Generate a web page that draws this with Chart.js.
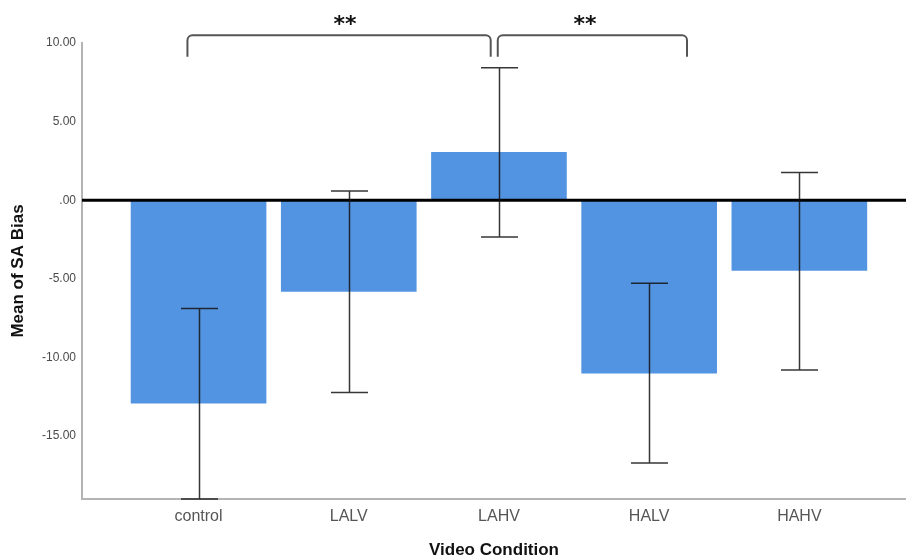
<!DOCTYPE html>
<html>
<head>
<meta charset="utf-8">
<script src="https://cdn.jsdelivr.net/npm/chart.js@4.4.1/dist/chart.umd.min.js"></script>
<style>
  html, body { margin: 0; padding: 0; background: #ffffff; }
  #wrap { width: 906px; height: 559px; position: relative; }
</style>
</head>
<body>
<div id="wrap"><canvas id="chart" width="906" height="559"></canvas></div>
<script>
// Video conditions on the x axis
const categories = ['control', 'LALV', 'LAHV', 'HALV', 'HAHV'];
// Mean SA bias per condition
const meanBias = [-12.90, -5.80, 3.04, -10.99, -4.47];
// Upper and lower ends of the error bars
const errUpper = [-6.88, 0.59, 8.43, -5.28, 1.76];
const errLower = [-19.00, -12.23, -2.34, -16.71, -10.79];
// Value-axis tick positions
const yTicks = [10, 5, 0, -5, -10, -15];
// Significant pairwise comparisons (category indices)
const comparisons = [
  { from: 0, to: 2, label: '**' },
  { from: 2, to: 3, label: '**' }
];

const barData = categories.map((c, i) => ({ x: i + 1, y: meanBias[i] }));

// Zero reference line plus error bars drawn on top of the bars
const errorBarPlugin = {
  id: 'errorBars',
  afterDatasetsDraw(chart) {
    const { ctx, chartArea, scales: { x, y } } = chart;
    ctx.save();
    // heavy zero line
    const y0 = y.getPixelForValue(0);
    ctx.strokeStyle = '#000000';
    ctx.lineWidth = 3;
    ctx.beginPath();
    ctx.moveTo(chartArea.left, y0);
    ctx.lineTo(chartArea.right, y0);
    ctx.stroke();
    // whiskers
    ctx.strokeStyle = 'rgba(20,20,20,0.85)';
    ctx.lineWidth = 1.5;
    const cap = 18.5;
    categories.forEach((c, i) => {
      const px = Math.round(x.getPixelForValue(i + 1)) + 0.5;
      const hi = y.getPixelForValue(errUpper[i]);
      const lo = y.getPixelForValue(errLower[i]);
      ctx.beginPath();
      ctx.moveTo(px, hi);
      ctx.lineTo(px, lo);
      ctx.moveTo(px - cap, hi);
      ctx.lineTo(px + cap, hi);
      ctx.moveTo(px - cap, lo);
      ctx.lineTo(px + cap, lo);
      ctx.stroke();
    });
    ctx.restore();
  }
};

// Significance brackets with asterisks above the plot
const bracketPlugin = {
  id: 'sigBrackets',
  afterDraw(chart, args, opts) {
    const { ctx, scales: { x, y } } = chart;
    ctx.save();
    ctx.strokeStyle = '#555555';
    ctx.lineWidth = 2;
    ctx.lineJoin = 'round';
    const top = y.getPixelForValue(opts.topValue);
    const foot = y.getPixelForValue(opts.footValue);
    const r = 5;
    comparisons.forEach((cmp, k) => {
      const ins = opts.insets[k];
      const x1 = x.getPixelForValue(cmp.from + 1 + ins[0]);
      const x2 = x.getPixelForValue(cmp.to + 1 + ins[1]);
      ctx.beginPath();
      ctx.moveTo(x1, foot);
      ctx.arcTo(x1, top, x1 + r, top, r);
      ctx.arcTo(x2, top, x2, top + r, r);
      ctx.lineTo(x2, foot);
      ctx.stroke();
      ctx.fillStyle = '#111111';
      ctx.font = 'bold 22px "DejaVu Sans"';
      ctx.textAlign = 'center';
      ctx.textBaseline = 'alphabetic';
      ctx.fillText(cmp.label, (x1 + x2) / 2 + opts.labelShift[k], top - 4);
    });
    ctx.restore();
  }
};

new Chart(document.getElementById('chart'), {
  type: 'bar',
  data: {
    datasets: [{
      data: barData,
      backgroundColor: '#5394e2',
      borderWidth: 0,
      barThickness: 135
    }]
  },
  options: {
    responsive: false,
    animation: false,
    layout: { padding: { top: 43, right: 0, left: 0, bottom: 0 } },
    plugins: {
      legend: { display: false },
      tooltip: { enabled: false },
      sigBrackets: {
        topValue: 10.5,
        footValue: 9.13,
        insets: [[-0.074, -0.055], [-0.008, 0.252]],
        labelShift: [6, -7.5]
      }
    },
    scales: {
      x: {
        type: 'linear',
        offset: false,
        min: 0.224,
        max: 5.71,
        afterBuildTicks(scale) {
          scale.ticks = categories.map((c, i) => ({ value: i + 1 }));
        },
        afterFit(scale) { scale.height = 60; },
        grid: { display: false, drawTicks: false, offset: false },
        border: { display: true, color: '#b4b4b4', width: 2 },
        ticks: {
          color: '#555555',
          font: { family: '"Liberation Sans", Arial, sans-serif', size: 16 },
          padding: 8,
          autoSkip: false,
          maxRotation: 0,
          callback: (v) => categories[v - 1]
        },
        title: {
          display: true,
          text: 'Video Condition',
          color: '#111111',
          font: { family: '"Liberation Sans", Arial, sans-serif', size: 17, weight: 'bold', lineHeight: 1 },
          padding: { top: 0, bottom: 0 }
        }
      },
      y: {
        min: -19,
        max: 10,
        afterBuildTicks(scale) {
          scale.ticks = yTicks.map(v => ({ value: v }));
        },
        afterFit(scale) { scale.width = 82; },
        grid: { display: false, drawTicks: false },
        border: { display: true, color: '#b4b4b4', width: 2 },
        ticks: {
          color: '#4a4a4a',
          font: { family: '"Liberation Sans", Arial, sans-serif', size: 12 },
          padding: 6,
          callback: (v) => v === 0 ? '.00' : v.toFixed(2)
        },
        title: {
          display: true,
          text: 'Mean of SA Bias',
          color: '#111111',
          font: { family: '"Liberation Sans", Arial, sans-serif', size: 17, weight: 'bold', lineHeight: 1 },
          padding: { top: 10, bottom: 0 }
        }
      }
    }
  },
  plugins: [errorBarPlugin, bracketPlugin]
});
</script>
</body>
</html>
